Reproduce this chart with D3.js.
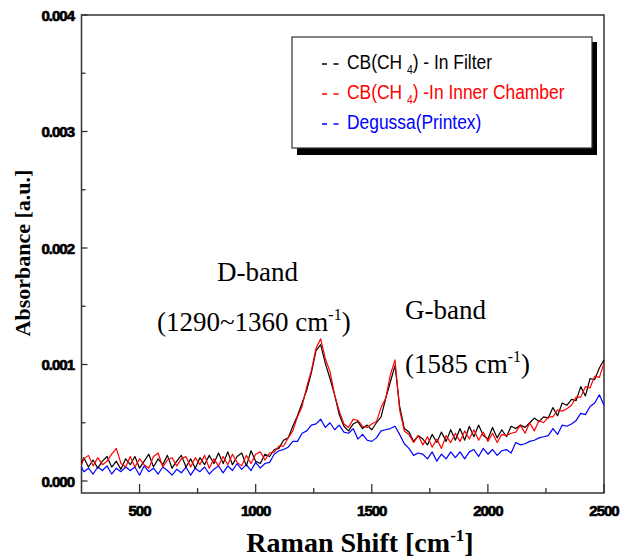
<!DOCTYPE html>
<html>
<head>
<meta charset="utf-8">
<script src="https://cdn.jsdelivr.net/npm/d3@7"></script>
<style>
  body { margin: 0; background: #fff; }
  svg { display: block; }
</style>
</head>
<body>
<svg id="chart" width="621" height="559"></svg>
<script>
// Raman shift grid [cm-1]
var shifts = [250].concat(d3.range(260, 2501, 20));

// absorbance in units of 1e-5 a.u., one value per shift
var cbFilter = [15,
  20, 12, 18, 11, 17, 21, 12, 17, 10, 19,
  14, 21, 11, 17, 23, 12, 19, 14, 22, 11,
  17, 22, 12, 19, 11, 20, 14, 22, 15, 24,
  15, 25, 14, 21, 24, 13, 26, 17, 15, 23,
  21, 27, 28, 35, 37, 47, 56, 67, 78, 93,
  112, 117, 101, 88, 74, 57, 47, 43, 49, 51,
  45, 48, 44, 50, 55, 71, 85, 99, 64, 45,
  42, 34, 39, 36, 31, 40, 33, 42, 34, 44,
  35, 45, 35, 47, 38, 48, 39, 36, 46, 37,
  44, 38, 47, 45, 48, 46, 50, 54, 51, 55,
  54, 63, 56, 67, 65, 70, 69, 81, 73, 88,
  87, 97, 104];

var cbChamber = [14,
  19, 22, 13, 20, 14, 17, 23, 28, 15, 12,
  21, 12, 19, 14, 11, 21, 24, 12, 18, 20,
  13, 19, 21, 12, 20, 14, 22, 11, 19, 13,
  21, 14, 23, 16, 13, 22, 15, 23, 25, 18,
  24, 25, 30, 30, 37, 43, 55, 64, 81, 95,
  114, 122, 105, 94, 74, 60, 49, 46, 53, 52,
  47, 46, 49, 51, 63, 71, 91, 104, 61, 43,
  40, 33, 39, 31, 38, 29, 36, 28, 39, 33,
  41, 34, 43, 36, 44, 35, 42, 34, 41, 33,
  40, 39, 41, 42, 48, 41, 50, 43, 52, 50,
  55, 55, 61, 60, 62, 65, 72, 72, 81, 80,
  90, 89, 101];

var degussa = [12,
  8, 11, 6, 12, 9, 13, 6, 11, 8, 12,
  9, 12, 5, 13, 8, 11, 6, 12, 9, 5,
  10, 7, 12, 5, 11, 8, 12, 6, 10, 13,
  7, 13, 9, 15, 10, 14, 9, 16, 11, 15,
  16, 23, 26, 27, 29, 34, 34, 41, 43, 48,
  49, 53, 46, 50, 44, 48, 42, 41, 45, 36,
  40, 35, 34, 37, 43, 44, 45, 47, 40, 32,
  28, 22, 24, 23, 19, 25, 17, 23, 19, 25,
  20, 25, 19, 25, 27, 21, 28, 23, 27, 22,
  26, 27, 24, 33, 31, 32, 34, 35, 37, 38,
  39, 45, 40, 48, 47, 49, 52, 58, 57, 64,
  67, 74, 65];

var xMajor = [500, 1000, 1500, 2000, 2500];
var xMinor = [750, 1250, 1750, 2250];
var yMajor = [0, 0.001, 0.002, 0.003, 0.004];
var yMinor = [0.0005, 0.0015, 0.0025, 0.0035];

var seriesNames = ["CB(CH4) - In Filter", "CB(CH4) -In Inner Chamber", "Degussa(Printex)"];
var seriesColors = ["#000000", "#ff0000", "#0000ff"];

var svg = d3.select("#chart");
var plotL = 81.5, plotR = 604, plotT = 15, plotB = 493;

var x = d3.scaleLinear().domain([250, 2500]).range([plotL, plotR]);
var y = d3.scaleLinear().domain([-0.000103, 0.004]).range([plotB, plotT]);

// frame
svg.append("rect")
  .attr("x", plotL).attr("y", plotT)
  .attr("width", plotR - plotL).attr("height", plotB - plotT)
  .attr("fill", "none").attr("stroke", "#333").attr("stroke-width", 1.5);

// tick labels are heavy and narrow in the original
function tickText(sel) {
  sel.attr("font-family", "Liberation Sans, Arial, sans-serif")
    .attr("font-weight", "bold")
    .attr("font-size", 15)
    .attr("stroke", "#000")
    .attr("stroke-width", 0.7)
    .attr("letter-spacing", -1);
}

// x ticks, pointing inward
var xAxis = svg.append("g");
xAxis.selectAll(".maj").data(xMajor).enter().append("line")
  .attr("x1", function(d) { return x(d); }).attr("x2", function(d) { return x(d); })
  .attr("y1", plotB).attr("y2", plotB - 9)
  .attr("stroke", "#333").attr("stroke-width", 1.3);
xAxis.selectAll(".min").data(xMinor).enter().append("line")
  .attr("x1", function(d) { return x(d); }).attr("x2", function(d) { return x(d); })
  .attr("y1", plotB).attr("y2", plotB - 5)
  .attr("stroke", "#333").attr("stroke-width", 1.3);
xAxis.selectAll("text").data(xMajor).enter().append("text")
  .attr("x", function(d) { return x(d); })
  .attr("y", 516)
  .attr("text-anchor", "middle")
  .call(tickText)
  .text(function(d) { return d; });

// y ticks
var yAxis = svg.append("g");
yAxis.selectAll(".maj").data(yMajor).enter().append("line")
  .attr("x1", plotL).attr("x2", plotL + 6)
  .attr("y1", function(d) { return y(d); }).attr("y2", function(d) { return y(d); })
  .attr("stroke", "#333").attr("stroke-width", 1.3);
yAxis.selectAll(".min").data(yMinor).enter().append("line")
  .attr("x1", plotL).attr("x2", plotL + 4)
  .attr("y1", function(d) { return y(d); }).attr("y2", function(d) { return y(d); })
  .attr("stroke", "#333").attr("stroke-width", 1.3);
yAxis.selectAll("text").data(yMajor).enter().append("text")
  .attr("x", 74)
  .attr("y", function(d) { return y(d) + 5.5; })
  .attr("text-anchor", "end")
  .call(tickText)
  .text(function(d) { return d3.format(".3f")(d); });

// axis titles
var xTitle = svg.append("text")
  .attr("x", 360).attr("y", 552)
  .attr("text-anchor", "middle")
  .attr("font-family", "Liberation Serif, Times New Roman, serif")
  .attr("font-weight", "bold")
  .attr("font-size", 28);
xTitle.append("tspan").text("Raman Shift [cm");
xTitle.append("tspan").attr("font-size", 17).attr("dy", -11).text("-1");
xTitle.append("tspan").attr("dy", 11).text("]");

svg.append("text")
  .attr("transform", "translate(30,253) rotate(-90)")
  .attr("text-anchor", "middle")
  .attr("font-family", "Liberation Serif, Times New Roman, serif")
  .attr("font-weight", "bold")
  .attr("font-size", 22)
  .text("Absorbance [a.u.]");

// spectra
var series = [cbFilter, cbChamber, degussa];
var line = d3.line()
  .x(function(d, i) { return x(shifts[i]); })
  .y(function(d) { return y(d * 1e-5); });

var drawOrder = [2, 0, 1];
drawOrder.forEach(function(k) {
  svg.append("path")
    .attr("d", line(series[k]))
    .attr("fill", "none")
    .attr("stroke", seriesColors[k])
    .attr("stroke-width", 1.2)
    .attr("stroke-linejoin", "round");
});

// band annotations
function annotate(tx, ty, main, sup, tail) {
  var t = svg.append("text")
    .attr("x", tx).attr("y", ty)
    .attr("font-family", "Liberation Serif, Times New Roman, serif")
    .attr("font-size", 27);
  t.append("tspan").text(main);
  if (sup) {
    t.append("tspan").attr("font-size", 16).attr("dy", -11).text(sup);
    t.append("tspan").attr("dy", 11).text(tail);
  }
}
annotate(217, 281, "D-band");
annotate(157, 331, "(1290~1360 cm", "-1", ")");
annotate(405, 319, "G-band");
annotate(405, 373, "(1585 cm", "-1", ")");

// legend
var legend = svg.append("g");
legend.append("rect")
  .attr("x", 297).attr("y", 42).attr("width", 300).attr("height", 113)
  .attr("fill", "#000");
legend.append("rect")
  .attr("x", 292).attr("y", 37).attr("width", 300).attr("height", 111)
  .attr("fill", "#fff").attr("stroke", "#333").attr("stroke-width", 1.2);

seriesNames.forEach(function(name, i) {
  var by = 69 + i * 30;
  legend.append("line")
    .attr("x1", 322).attr("x2", 339)
    .attr("y1", by - 5).attr("y2", by - 5)
    .attr("stroke", seriesColors[i])
    .attr("stroke-width", 1.3)
    .attr("stroke-dasharray", "5,6.5");
  var g = legend.append("g").attr("transform", "translate(347," + by + ") scale(0.87,1)");
  var t = g.append("text")
    .attr("font-family", "Liberation Sans, Arial, sans-serif")
    .attr("font-size", 20)
    .attr("fill", seriesColors[i]);
  var parts = name.split("4");
  if (parts.length > 1) {
    t.append("tspan").text(parts[0] + " ");
    t.append("tspan").attr("font-size", 12).attr("dy", 5).text("4");
    t.append("tspan").attr("dy", -5).text(parts[1]);
  } else {
    t.text(name);
  }
});
</script>
</body>
</html>
